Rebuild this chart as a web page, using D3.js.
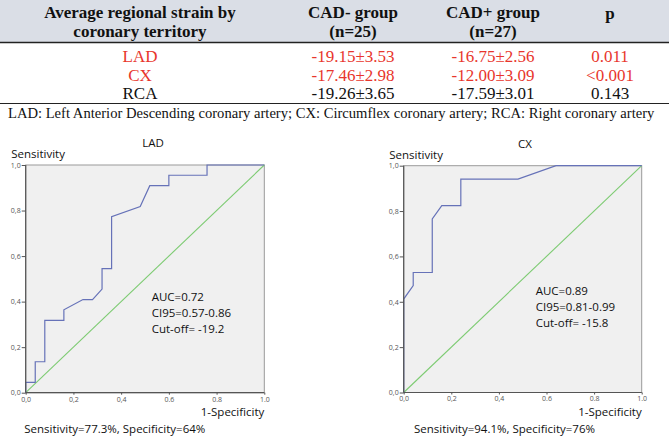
<!DOCTYPE html>
<html>
<head>
<meta charset="utf-8">
<script src="https://cdn.jsdelivr.net/npm/d3@7/dist/d3.min.js"></script>
<style>
  body { margin: 0; background: #fff; }
  svg { display: block; }
</style>
</head>
<body>
<div id="chart"></div>
<script>
// table content
const headerLines = [
  ["Average regional strain by", "coronary territory"],
  ["CAD- group", "(n=25)"],
  ["CAD+ group", "(n=27)"],
  ["p"]
];
const territories = ["LAD", "CX", "RCA"];
const cadNeg = ["-19.15±3.53", "-17.46±2.98", "-19.26±3.65"];
const cadPos = ["-16.75±2.56", "-12.00±3.09", "-17.59±3.01"];
const pValues = ["0.011", "<0.001", "0.143"];
const significant = [true, true, false];
const footnote = "LAD: Left Anterior Descending coronary artery; CX: Circumflex coronary artery; RCA: Right coronary artery";

// ROC curves (1-specificity, sensitivity)
const ladFpr = [0, 0, 0.04, 0.04, 0.08, 0.08, 0.16, 0.16, 0.24, 0.28, 0.32, 0.32, 0.36, 0.36, 0.48, 0.52, 0.60, 0.60, 0.76, 0.76, 1.0];
const ladTpr = [0, 0.045, 0.045, 0.136, 0.136, 0.318, 0.318, 0.364, 0.409, 0.409, 0.455, 0.545, 0.545, 0.773, 0.818, 0.909, 0.909, 0.955, 0.955, 1.0, 1.0];
const cxFpr = [0, 0, 0.04, 0.04, 0.12, 0.12, 0.16, 0.24, 0.24, 0.48, 0.64, 1.0];
const cxTpr = [0, 0.412, 0.471, 0.529, 0.529, 0.765, 0.824, 0.824, 0.941, 0.941, 1.0, 1.0];

const tickValues = [0, 0.2, 0.4, 0.6, 0.8, 1.0];
const yTickLabels = ["0,0", "0,2", "0,4", "0,6", "0,8", "1,0"];
const xTickLabels = ["0,0", "0,2", "0,4", "0.6", "0.8", "1.0"];

const ladStats = ["AUC=0.72", "CI95=0.57-0.86", "Cut-off= -19.2"];
const cxStats = ["AUC=0.89", "CI95=0.81-0.99", "Cut-off= -15.8"];
const ladSummary = "Sensitivity=77.3%, Specificity=64%";
const cxSummary = "Sensitivity=94.1%, Specificity=76%";

const width = 669;
const height = 448;
const red = "#e8362c";
const serif = "'Liberation Serif', 'Times New Roman', serif";
const sans = "'Open Sans', sans-serif";

const svg = d3.select("#chart")
  .append("svg")
  .attr("width", width)
  .attr("height", height);

// ---- table ----
const colX = [140, 353, 493, 610];

svg.append("rect")
  .attr("x", 0).attr("y", 0)
  .attr("width", width).attr("height", 42)
  .attr("fill", "#dadee6");

svg.append("line")
  .attr("x1", 0).attr("x2", width)
  .attr("y1", 42.5).attr("y2", 42.5)
  .attr("stroke", "#222").attr("stroke-width", 1.3);

svg.append("line")
  .attr("x1", 0).attr("x2", width)
  .attr("y1", 103.5).attr("y2", 103.5)
  .attr("stroke", "#222").attr("stroke-width", 1);

headerLines.forEach(function(lines, i) {
  lines.forEach(function(t, j) {
    svg.append("text")
      .attr("x", colX[i])
      .attr("y", lines.length === 1 ? 19 : 17.5 + j * 19)
      .attr("text-anchor", "middle")
      .attr("font-family", serif)
      .attr("font-weight", "bold")
      .attr("font-size", 17)
      .attr("fill", "#111")
      .text(t);
  });
});

const rowBase = [62, 80.5, 99];
territories.forEach(function(name, i) {
  const cells = [name, cadNeg[i], cadPos[i], pValues[i]];
  cells.forEach(function(t, j) {
    svg.append("text")
      .attr("x", colX[j])
      .attr("y", rowBase[i])
      .attr("text-anchor", "middle")
      .attr("font-family", serif)
      .attr("font-size", 17)
      .attr("fill", significant[i] ? red : "#111")
      .text(t);
  });
});

svg.append("text")
  .attr("x", 8)
  .attr("y", 118)
  .attr("font-family", serif)
  .attr("font-size", 14.6)
  .attr("fill", "#111")
  .text(footnote);

// ---- ROC panels ----
function drawRoc(opts) {
  const x = d3.scaleLinear().domain([0, 1]).range(opts.xRange);
  const y = d3.scaleLinear().domain([0, 1]).range(opts.yRange);
  const g = svg.append("g");

  g.append("rect")
    .attr("x", x(0)).attr("y", y(1))
    .attr("width", x(1) - x(0)).attr("height", y(0) - y(1))
    .attr("fill", "#f0f0f0")
    .attr("stroke", "#999")
    .attr("stroke-width", 1);

  // reference diagonal
  g.append("line")
    .attr("x1", x(0)).attr("y1", y(0))
    .attr("x2", x(1)).attr("y2", y(1))
    .attr("stroke", "#7dcb72")
    .attr("stroke-width", 1.1);

  const pts = opts.fpr.map(function(f, i) { return [f, opts.tpr[i]]; });
  g.append("path")
    .datum(pts)
    .attr("fill", "none")
    .attr("stroke", "#6672b8")
    .attr("stroke-width", 1.2)
    .attr("d", d3.line()
      .x(function(d) { return x(d[0]); })
      .y(function(d) { return y(d[1]); }));

  const yAxis = g.append("g")
    .attr("transform", "translate(" + x(0) + ",0)")
    .call(d3.axisLeft(y)
      .tickValues(tickValues)
      .tickSize(4)
      .tickPadding(1)
      .tickFormat(function(d, i) { return yTickLabels[i]; }));

  const xAxis = g.append("g")
    .attr("transform", "translate(0," + y(0) + ")")
    .call(d3.axisBottom(x)
      .tickValues(tickValues)
      .tickSize(2)
      .tickPadding(2)
      .tickFormat(function(d, i) { return xTickLabels[i]; }));

  [yAxis, xAxis].forEach(function(a) {
    a.select(".domain").attr("stroke", "#555").attr("stroke-width", 1.2);
    a.selectAll(".tick line").attr("stroke", "#555");
    a.selectAll(".tick text")
      .attr("font-family", sans)
      .attr("font-size", 7)
      .attr("fill", "#555");
  });
  yAxis.select(".domain").attr("d", "M0," + y(0) + "V" + y(1));
  xAxis.select(".domain").attr("d", "M" + x(0) + ",0H" + x(1));

  g.append("text")
    .attr("x", opts.titleX).attr("y", y(1) - 18)
    .attr("text-anchor", "middle")
    .attr("font-family", sans).attr("font-size", 11.5)
    .attr("fill", "#111")
    .text(opts.title);

  g.append("text")
    .attr("x", x(0) - 14.5).attr("y", y(1) - 7)
    .attr("font-family", sans).attr("font-size", 11.5)
    .attr("fill", "#111")
    .text("Sensitivity");

  opts.stats.forEach(function(t, i) {
    g.append("text")
      .attr("x", opts.statsX).attr("y", opts.statsY + i * 16)
      .attr("font-family", sans).attr("font-size", 11.5)
      .attr("fill", "#111")
      .text(t);
  });

  g.append("text")
    .attr("x", x(1)).attr("y", y(0) + 23)
    .attr("text-anchor", "end")
    .attr("font-family", sans).attr("font-size", 11.5)
    .attr("fill", "#111")
    .text("1-Specificity");

  g.append("text")
    .attr("x", opts.summaryX).attr("y", y(0) + 40)
    .attr("font-family", sans).attr("font-size", 11.5)
    .attr("fill", "#111")
    .text(opts.summary);
}

drawRoc({
  title: "LAD", titleX: 153,
  xRange: [25.7, 264.3], yRange: [392.7, 165],
  fpr: ladFpr, tpr: ladTpr,
  stats: ladStats, statsX: 151.7, statsY: 300.5,
  summary: ladSummary, summaryX: 24.3
});

drawRoc({
  title: "CX", titleX: 525,
  xRange: [403.7, 641.7], yRange: [392.5, 165.7],
  fpr: cxFpr, tpr: cxTpr,
  stats: cxStats, statsX: 535.7, statsY: 295,
  summary: cxSummary, summaryX: 414
});
</script>
</body>
</html>
